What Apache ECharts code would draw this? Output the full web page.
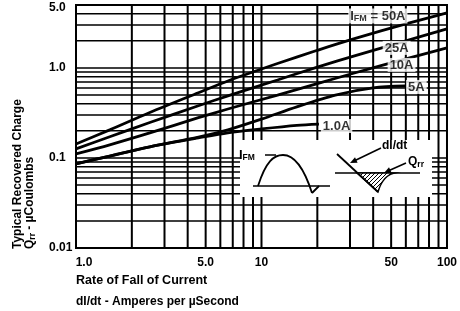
<!DOCTYPE html>
<html><head><meta charset="utf-8">
<script src="https://cdn.jsdelivr.net/npm/echarts@6/dist/echarts.min.js"></script>
<style>html,body{margin:0;padding:0;background:#fff}#c{width:460px;height:311px}</style>
</head><body><div id="c"></div>
<script>
// ---- data ----
const xTicks = [1, 5, 10, 50, 100];
const xTickLabels = ['1.0', '5.0', '10', '50', '100'];
const yTicks = [0.01, 0.1, 1, 5];
const yTickLabels = ['0.01', '0.1', '1.0', '5.0'];
const xGrid = [2, 3, 4, 5, 6, 7, 8, 9, 10, 20, 30, 40, 50, 60, 70, 80, 90];
const yGrid = [0.02, 0.03, 0.04, 0.05, 0.06, 0.07, 0.08, 0.09, 0.1, 0.2, 0.3, 0.4, 0.5, 0.6, 0.7, 0.8, 0.9, 1, 2, 3, 4];

const seriesNames = ['50A', '25A', '10A', '5A', '1.0A'];
const rate50 = [1, 1.52, 2.5, 4.57, 6.59, 12.2, 20, 32.4, 60, 100];
const q50 = [0.143, 0.205, 0.32, 0.53, 0.717, 1.12, 1.57, 2.14, 3.08, 4.08];
const rate25 = [1, 1.52, 2.5, 4.57, 6.59, 12.2, 20, 32.4, 60, 100];
const q25 = [0.126, 0.172, 0.248, 0.38, 0.489, 0.735, 1.02, 1.38, 2.0, 2.71];
const rate10 = [1, 1.52, 2.5, 4.57, 6.59, 12.2, 20, 32.4, 60, 100];
const q10 = [0.111, 0.14, 0.19, 0.28, 0.350, 0.50, 0.67, 0.89, 1.26, 1.67];
const rate5 = [1, 1.52, 2.5, 4.57, 6.59, 10, 15.5, 25, 40, 60];
const q5 = [0.0858, 0.105, 0.133, 0.17, 0.205, 0.27, 0.37, 0.50, 0.60, 0.63];
const rate1 = [1, 1.52, 2.5, 4.57, 6.59, 10, 15.5, 20.4];
const q1 = [0.0858, 0.105, 0.133, 0.167, 0.19, 0.21, 0.23, 0.238];

const curveLabelText = ['I{sub|FM} = 50A', '25A', '10A', '5A', '1.0A'];
const curveLabelAnchor = [[42.4, 3.78], [53.5, 1.67], [56.9, 1.08], [68.4, 0.615], [25.4, 0.227]];

// ---- build ----
const X_MIN = 1, X_MAX = 100, Y_MIN = 0.01, Y_MAX = 5;
const FONT = 'Liberation Sans, Arial, Helvetica, sans-serif';
const zip = (a, b) => a.map((v, i) => [v, b[i]]);
const curves = [zip(rate50, q50), zip(rate25, q25), zip(rate10, q10), zip(rate5, q5), zip(rate1, q1)];

const vData = [];
xGrid.forEach(v => { vData.push([v, Y_MIN], [v, Y_MAX], [v, '-']); });
const hData = [];
yGrid.forEach(v => { hData.push([X_MIN, v], [X_MAX, v], ['-', v]); });

// hatch pattern
const pc = document.createElement('canvas');
pc.width = 4; pc.height = 4;
const pctx = pc.getContext('2d');
pctx.fillStyle = '#fff'; pctx.fillRect(0, 0, 4, 4);
pctx.fillStyle = '#000';
for (let i = 0; i < 4; i++) pctx.fillRect(i, 3 - i, 1, 1);

// recovery-tail outline for the hatched area (inset decoration)
const hatchPts = [[357, 173], [395, 173]];
for (let k = 1; k <= 10; k++) {
  const t = k / 10, u = 1 - t;
  hatchPts.push([u * u * 395 + 2 * u * t * 383 + t * t * 378, u * u * 173 + 2 * u * t * 175 + t * t * 192]);
}

const subRich = {
  sub: { fontSize: 8.5, fontWeight: 'bold', fontFamily: FONT, padding: [5, 0, 0, 0], color: '#000' }
};
const bold = sz => ({ fontSize: sz, fontWeight: 'bold', fontFamily: FONT, color: '#000' });

const chart = echarts.init(document.getElementById('c'), null, { renderer: 'canvas' });
const option = {
  animation: false,
  backgroundColor: '#fff',
  grid: { left: 76, top: 5, right: 8, bottom: 63, show: true, borderColor: '#000', borderWidth: 2, backgroundColor: 'transparent', containLabel: false },
  xAxis: {
    type: 'log', logBase: 10, min: X_MIN, max: X_MAX,
    axisLine: { show: false }, axisTick: { show: false }, splitLine: { show: false },
    axisLabel: Object.assign(bold(12), {
      customValues: xTicks, margin: 9,
      formatter: v => { const i = xTicks.findIndex(t => Math.abs(t - v) < 1e-6 * t); return i >= 0 ? (i === 0 ? '{a|' + xTickLabels[i] + '}' : xTickLabels[i]) : ''; },
      rich: { a: Object.assign(bold(12), { padding: [0, 0, 0, 16] }) }
    })
  },
  yAxis: {
    type: 'log', logBase: 10, min: Y_MIN, max: Y_MAX,
    axisLine: { show: false }, axisTick: { show: false }, splitLine: { show: false },
    axisLabel: Object.assign(bold(12), {
      customValues: yTicks, margin: 27, align: 'left',
      formatter: v => { const i = yTicks.findIndex(t => Math.abs(t - v) < 1e-6 * t); return i < 0 ? '' : (i === yTicks.length - 1 ? '{t|' + yTickLabels[i] + '}' : yTickLabels[i]); },
      rich: { t: Object.assign(bold(12), { padding: [6, 0, 0, 0] }) }
    })
  },
  series: [
    { type: 'line', data: vData, z: 0, silent: true, symbol: 'none', connectNulls: false, clip: false, lineStyle: { color: '#000', width: 2 } },
    { type: 'line', data: hData, z: 0, silent: true, symbol: 'none', connectNulls: false, clip: false, lineStyle: { color: '#000', width: 1.5 } }
  ].concat(curves.map((d, i) => ({
    name: seriesNames[i], type: 'line', data: d, z: 3, symbol: 'none', smooth: 0.3,
    lineStyle: { color: '#000', width: 2.8 }
  }))).concat([{
    type: 'scatter', z: 4, symbolSize: 0, clip: false, silent: true,
    data: curveLabelAnchor,
    label: Object.assign(bold(13), {
      show: true, position: 'inside',
      backgroundColor: '#fff', padding: [1, 2, 0, 2],
      formatter: p => curveLabelText[p.dataIndex],
      rich: { sub: Object.assign(bold(9), { padding: [5, 0, 0, 0] }) }
    })
  }]),
  graphic: [
    // white area behind insets
    { type: 'rect', z: 1, shape: { x: 240, y: 140, width: 192, height: 57 }, style: { fill: '#fff' }, silent: true },
    // left inset
    { type: 'line', z: 5, shape: { x1: 253, y1: 186, x2: 330, y2: 186 }, style: { stroke: '#000', lineWidth: 1.6 } },
    { type: 'bezierCurve', z: 5, shape: { x1: 258, y1: 186, cpx1: 266, cpy1: 161, cpx2: 274, cpy2: 155, x2: 283, y2: 155 }, style: { stroke: '#000', lineWidth: 1.8, fill: null } },
    { type: 'bezierCurve', z: 5, shape: { x1: 283, y1: 155, cpx1: 294, cpy1: 155, cpx2: 304, cpy2: 168, x2: 312, y2: 193 }, style: { stroke: '#000', lineWidth: 1.8, fill: null } },
    { type: 'line', z: 5, shape: { x1: 312, y1: 193, x2: 319, y2: 186 }, style: { stroke: '#000', lineWidth: 1.8 } },
    { type: 'line', z: 5, shape: { x1: 265, y1: 155, x2: 276, y2: 155 }, style: { stroke: '#000', lineWidth: 1.5 } },
    { type: 'text', z: 5, x: 239, y: 155, style: { text: 'I{sub|FM}', fill: '#000', font: 'bold 13px ' + FONT, textAlign: 'left', textVerticalAlign: 'middle', rich: subRich } },
    // right inset
    { type: 'line', z: 5, shape: { x1: 335, y1: 173, x2: 420, y2: 173 }, style: { stroke: '#000', lineWidth: 1.6 } },
    { type: 'polygon', z: 5, shape: { points: hatchPts }, style: { stroke: '#000', lineWidth: 1.4, fill: { image: pc, repeat: 'repeat' } } },
    { type: 'line', z: 5, shape: { x1: 337, y1: 154, x2: 378, y2: 192 }, style: { stroke: '#000', lineWidth: 1.8 } },
    { type: 'line', z: 5, shape: { x1: 381, y1: 148, x2: 354, y2: 161 }, style: { stroke: '#000', lineWidth: 1.6 } },
    { type: 'polygon', z: 5, shape: { points: [[350, 163], [357.6, 162.7], [355, 157.3]] }, style: { fill: '#000' } },
    { type: 'text', z: 5, x: 382, y: 146, style: { text: 'dI/dt', fill: '#000', font: 'bold 12px ' + FONT, textAlign: 'left', textVerticalAlign: 'middle' } },
    { type: 'line', z: 5, shape: { x1: 406, y1: 163, x2: 388, y2: 171 }, style: { stroke: '#000', lineWidth: 1.6 } },
    { type: 'polygon', z: 5, shape: { points: [[384, 173], [391.6, 172.7], [389, 167.3]] }, style: { fill: '#000' } },
    { type: 'text', z: 5, x: 408, y: 162, style: { text: 'Q{sub|rr}', fill: '#000', font: 'bold 12px ' + FONT, textAlign: 'left', textVerticalAlign: 'middle', rich: subRich } },
    // axis titles
    { type: 'text', z: 5, x: 76, y: 281, style: { text: 'Rate of Fall of Current', fill: '#000', font: 'bold 12.5px ' + FONT, textAlign: 'left', textVerticalAlign: 'middle' } },
    { type: 'text', z: 5, x: 76, y: 302, style: { text: 'dI/dt - Amperes per µSecond', fill: '#000', font: 'bold 12px ' + FONT, textAlign: 'left', textVerticalAlign: 'middle' } },
    { type: 'text', z: 5, x: 18, y: 249, rotation: Math.PI / 2, style: { text: 'Typical Recovered Charge', fill: '#000', font: 'bold 12px ' + FONT, textAlign: 'left', textVerticalAlign: 'middle' } },
    { type: 'text', z: 5, x: 30, y: 249, rotation: Math.PI / 2, style: { text: 'Q{sub|rr} - µCoulombs', fill: '#000', font: 'bold 12px ' + FONT, textAlign: 'left', textVerticalAlign: 'middle', rich: subRich } }
  ]
};
chart.setOption(option);
</script>
</body></html>
